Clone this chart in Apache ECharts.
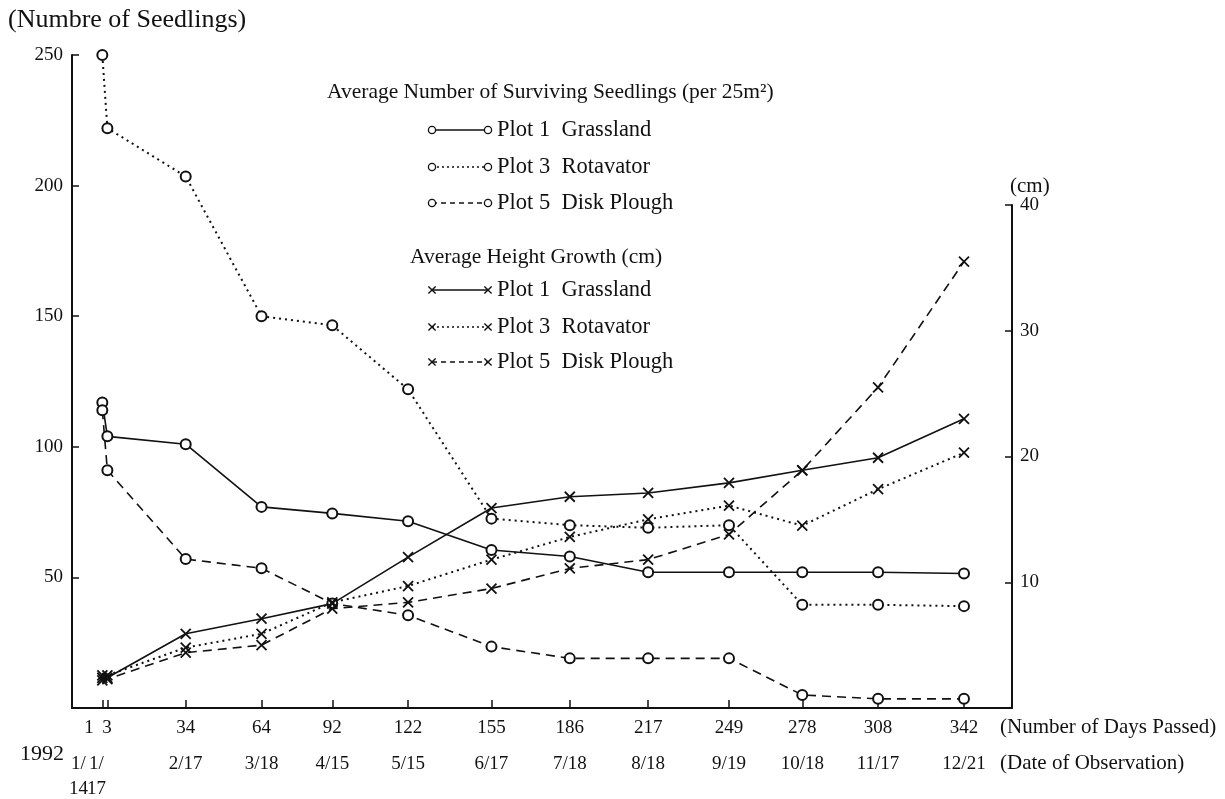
<!DOCTYPE html>
<html>
<head>
<meta charset="utf-8">
<title>Seedling survival and height growth, 1992</title>
<script src="https://cdn.jsdelivr.net/npm/echarts@6/dist/echarts.min.js"></script>
<style>
  html, body { margin: 0; padding: 0; background: #fff; }
  #chart { width: 1225px; height: 799px; }
</style>
</head>
<body>
<div id="chart"></div>
<script>
// Observation schedule: days since planting and calendar dates (1992)
const days = [1, 3, 34, 64, 92, 122, 155, 186, 217, 249, 278, 308, 342];
const dateLabels = ['1/\n14', '1/\n17', '2/17', '3/18', '4/15', '5/15', '6/17', '7/18', '8/18', '9/19', '10/18', '11/17', '12/21'];

// Average number of surviving seedlings per 25 m2 (left axis)
const seedlingsGrassland  = [117, 104, 101, 77, 74.5, 71.5, 60.5, 58, 52, 52, 52, 52, 51.5];
const seedlingsRotavator  = [250, 222, 203.5, 150, 146.5, 122, 72.5, 70, 69, 70, 39.5, 39.5, 39];
const seedlingsDiskPlough = [114, 91, 57, 53.5, 40, 35.5, 23.5, 19, 19, 19, 5, 3.5, 3.5];

// Average height growth in cm (right axis)
const heightGrassland  = [2.6, 2.4, 5.9, 7.1, 8.3, 12.0, 15.9, 16.8, 17.1, 17.9, 18.9, 19.9, 23.0];
const heightRotavator  = [2.4, 2.6, 4.8, 5.9, 8.4, 9.7, 11.8, 13.6, 15.0, 16.1, 14.5, 17.4, 20.3];
const heightDiskPlough = [2.2, 2.3, 4.4, 5.0, 7.9, 8.4, 9.5, 11.1, 11.8, 13.8, 18.9, 25.5, 35.5];

const plotNames = ['Plot 1  Grassland', 'Plot 3  Rotavator', 'Plot 5  Disk Plough'];

const SERIF = '"Liberation Serif", "Times New Roman", serif';
const INK = '#111';

// line dash per plot: solid, dotted, dashed
const seriesDash = ['solid', [2, 4], [9, 6]];
const legendDash = [null, [2, 3], [5, 4]];

const X_MARK = 'path://M0,0L10,10M10,0L0,10';

const chart = echarts.init(document.getElementById('chart'), null, { renderer: 'canvas' });

const seedlingSets = [seedlingsGrassland, seedlingsRotavator, seedlingsDiskPlough];
const heightSets = [heightGrassland, heightRotavator, heightDiskPlough];

const series = [];
seedlingSets.forEach((vals, k) => {
  series.push({
    name: plotNames[k] + ' (seedlings)',
    type: 'line',
    xAxisIndex: 0,
    yAxisIndex: 0,
    data: days.map((d, i) => [d, vals[i]]),
    symbol: 'emptyCircle',
    symbolSize: 10,
    showAllSymbol: true,
    clip: false,
    lineStyle: { color: INK, width: k === 1 ? 2 : 1.6, type: seriesDash[k] },
    itemStyle: { color: INK, borderColor: INK, borderWidth: 1.5 },
    z: 3
  });
});
heightSets.forEach((vals, k) => {
  series.push({
    name: plotNames[k] + ' (height)',
    type: 'line',
    xAxisIndex: 2,
    yAxisIndex: 1,
    data: days.map((d, i) => [d, vals[i]]),
    symbol: X_MARK,
    symbolSize: 10,
    showAllSymbol: true,
    clip: false,
    lineStyle: { color: INK, width: k === 1 ? 2 : 1.6, type: seriesDash[k] },
    itemStyle: { color: 'rgba(0,0,0,0)', borderColor: INK, borderWidth: 1.8 },
    z: 3
  });
});

function textEl(x, y, text, size, align) {
  return {
    type: 'text', x: x, y: y, silent: true,
    style: {
      text: text, font: size + 'px ' + SERIF, fill: INK,
      align: align, verticalAlign: 'middle',
      textAlign: align, textVerticalAlign: 'middle'
    }
  };
}

// legend drawn as graphic rows: marker - line - marker, then the label
function legendRow(y, marker, dash, label) {
  const x0 = 432, x1 = 488, r = 3.6;
  const els = [];
  const lineStyle = { stroke: INK, lineWidth: 1.4 };
  if (dash) lineStyle.lineDash = dash;
  els.push({ type: 'line', shape: { x1: x0, y1: y, x2: x1, y2: y }, style: lineStyle, silent: true });
  [x0, x1].forEach(cx => {
    if (marker === 'circle') {
      els.push({ type: 'circle', shape: { cx: cx, cy: y, r: r }, style: { fill: '#fff', stroke: INK, lineWidth: 1.3 }, silent: true });
    } else {
      els.push({ type: 'line', shape: { x1: cx - r, y1: y - r, x2: cx + r, y2: y + r }, style: { stroke: INK, lineWidth: 1.4 }, silent: true });
      els.push({ type: 'line', shape: { x1: cx - r, y1: y + r, x2: cx + r, y2: y - r }, style: { stroke: INK, lineWidth: 1.4 }, silent: true });
    }
  });
  els.push(textEl(497, y, label, 22.5, 'left'));
  return els;
}

const seedRowsY = [130, 167, 203];
const heightRowsY = [290, 327, 362];

const graphic = [
  textEl(8, 20, '(Numbre of Seedlings)', 26, 'left'),
  textEl(1010, 186, '(cm)', 21, 'left'),
  textEl(1000, 727, '(Number of Days Passed)', 21, 'left'),
  textEl(1000, 763, '(Date of Observation)', 21, 'left'),
  textEl(20, 754, '1992', 22, 'left'),
  textEl(327, 92, 'Average Number of Surviving Seedlings (per 25m\u00B2)', 21.5, 'left'),
  textEl(410, 257, 'Average Height Growth (cm)', 21.5, 'left')
];
plotNames.forEach((n, k) => {
  graphic.push(...legendRow(seedRowsY[k], 'circle', legendDash[k], n));
  graphic.push(...legendRow(heightRowsY[k], 'x', legendDash[k], n));
});

const axisLine = { show: true, onZero: false, lineStyle: { color: INK, width: 2 } };
const FS = 19;
const tickLabel = { fontFamily: SERIF, fontSize: FS, color: INK };

function rich(extra) {
  return Object.assign({ fontFamily: SERIF, fontSize: FS, color: INK, lineHeight: 25 }, extra);
}

// Days 1 and 3 are only two days apart, so their labels are set together
// under the day-3 tick as one block: "1 3", "1/ 1/", "14 17".
function dayLabel(v) {
  if (v === days[0]) return '';
  if (v === days[1]) return '{p|' + days[0] + '}{q|' + days[1] + '}';
  return '{n|' + v + '}';
}
function dateLabel(v) {
  const i = days.indexOf(v);
  if (i === 0) return '';
  if (i === 1) {
    const a = dateLabels[0].split('\n');
    const b = dateLabels[1].split('\n');
    return a.map((part, j) => '{c|' + part + '}{d|' + b[j] + '}').join('\n');
  }
  return '{n|' + dateLabels[i] + '}';
}

const xMin = -11, xMax = 361;

const option = {
  backgroundColor: '#fff',
  animation: false,
  grid: [
    { left: 72, right: 213, top: 55, bottom: 91 },
    { left: 72, right: 213, top: 205, bottom: 91 }
  ],
  xAxis: [
    {
      type: 'value', gridIndex: 0, min: xMin, max: xMax, position: 'bottom',
      axisLine: axisLine,
      axisTick: { show: true, inside: true, length: 8, customValues: days, lineStyle: { color: INK, width: 1.5 } },
      splitLine: { show: false },
      axisLabel: {
        customValues: days, margin: 8, hideOverlap: false, ...tickLabel,
        formatter: dayLabel,
        rich: {
          p: rich({ width: 10, align: 'center', padding: [0, 8, 0, 0] }),
          q: rich({ width: 10, align: 'center', padding: [0, 19, 0, 0] }),
          n: rich({})
        }
      }
    },
    {
      type: 'value', gridIndex: 0, min: xMin, max: xMax, position: 'bottom', offset: 36,
      axisLine: { show: false }, axisTick: { show: false }, splitLine: { show: false },
      axisLabel: {
        customValues: days, margin: 8, hideOverlap: false, ...tickLabel,
        formatter: dateLabel,
        rich: {
          c: rich({ width: 18, align: 'center' }),
          d: rich({ width: 18, align: 'center', padding: [0, 40, 0, 0] }),
          n: rich({})
        }
      }
    },
    {
      type: 'value', gridIndex: 1, min: xMin, max: xMax, show: false
    }
  ],
  yAxis: [
    {
      type: 'value', gridIndex: 0, min: 0, max: 250, interval: 50, position: 'left',
      axisLine: axisLine,
      axisTick: { show: true, inside: true, length: 7, lineStyle: { color: INK, width: 1.5 } },
      splitLine: { show: false },
      axisLabel: { ...tickLabel, margin: 9, formatter: v => (v === 0 ? '' : String(v)) }
    },
    {
      type: 'value', gridIndex: 1, min: 0, max: 40, interval: 10, position: 'right',
      axisLine: axisLine,
      axisTick: { show: true, inside: true, length: 7, lineStyle: { color: INK, width: 1.5 } },
      splitLine: { show: false },
      axisLabel: { ...tickLabel, margin: 8, formatter: v => (v === 0 ? '' : String(v)) }
    }
  ],
  graphic: graphic,
  series: series
};

chart.setOption(option);
</script>
</body>
</html>
